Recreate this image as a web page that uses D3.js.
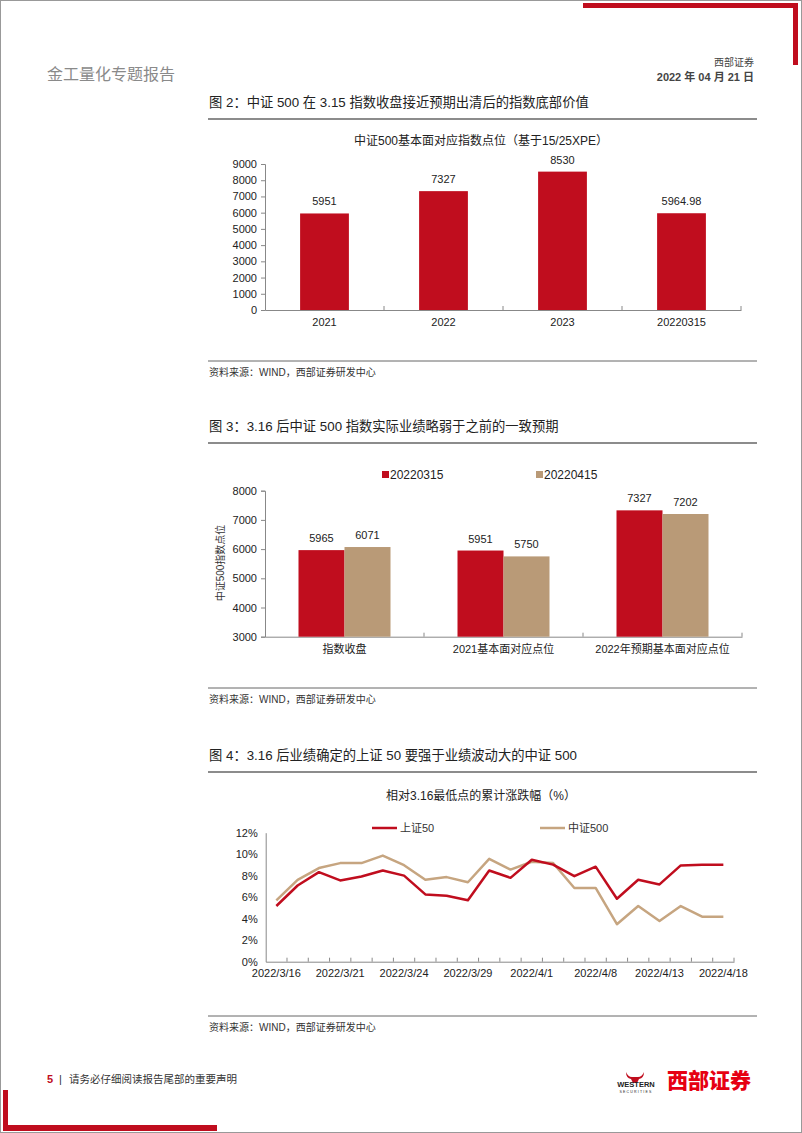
<!DOCTYPE html>
<html>
<head>
<meta charset="utf-8">
<script src="https://cdn.jsdelivr.net/npm/d3@7"></script>
<style>
  body { margin: 0; background: #fff; }
  svg { display: block; font-family: "Liberation Sans", "Noto Sans CJK SC", sans-serif; }
</style>
</head>
<body>
<svg id="page" width="802" height="1133"></svg>
<script>
// ---- data ----
const c1Cats = ["2021", "2022", "2023", "20220315"];
const c1Vals = [5951, 7327, 8530, 5964.98];
const c1Labels = ["5951", "7327", "8530", "5964.98"];

const c2Cats = ["指数收盘", "2021基本面对应点位", "2022年预期基本面对应点位"];
const c2Series = ["20220315", "20220415"];
const c2Mar = [5965, 5951, 7327];
const c2Apr = [6071, 5750, 7202];

const c3Dates = ["2022/3/16", "2022/3/17", "2022/3/18", "2022/3/21", "2022/3/22", "2022/3/23",
  "2022/3/24", "2022/3/25", "2022/3/28", "2022/3/29", "2022/3/30", "2022/3/31", "2022/4/1",
  "2022/4/6", "2022/4/7", "2022/4/8", "2022/4/11", "2022/4/12", "2022/4/13", "2022/4/14",
  "2022/4/15", "2022/4/18"];
const sz50 = [5.18, 7.09, 8.33, 7.56, 7.92, 8.48, 8.01, 6.26, 6.14, 5.71, 8.48, 7.80, 9.49,
  9.03, 7.96, 8.84, 5.86, 7.62, 7.19, 8.96, 9.02, 9.02];
const zz500 = [5.71, 7.62, 8.71, 9.17, 9.17, 9.87, 8.98, 7.62, 7.87, 7.39, 9.57, 8.57, 9.30,
  9.18, 6.86, 6.86, 3.49, 5.18, 3.78, 5.18, 4.19, 4.19];
const c3Names = ["上证50", "中证500"];

const RED = "#c00d1e", BROWN = "#b99a77", LBROWN = "#c6a580";
const CJK = "'Noto Sans CJK SC', sans-serif";

const svg = d3.select("#page");

// page frame + decorations
svg.append("rect").attr("x", 0.5).attr("y", 0.5).attr("width", 801).attr("height", 1132)
  .attr("fill", "none").attr("stroke", "#999").attr("stroke-width", 1);
svg.append("rect").attr("x", 583).attr("y", 3).attr("width", 214).attr("height", 5).attr("fill", RED);
svg.append("rect").attr("x", 793).attr("y", 3).attr("width", 5).attr("height", 62).attr("fill", RED);
svg.append("rect").attr("x", 3).attr("y", 1090).attr("width", 5).attr("height", 40).attr("fill", RED);
svg.append("rect").attr("x", 3).attr("y", 1125).attr("width", 214).attr("height", 6).attr("fill", RED);

svg.append("text").attr("x", 47).attr("y", 80).attr("fill", "#8a8a8a")
  .style("font-family", CJK).style("font-size", "16px").text("金工量化专题报告");
svg.append("text").attr("x", 754).attr("y", 66).attr("text-anchor", "end").attr("fill", "#444")
  .style("font-family", CJK).style("font-size", "10px").text("西部证券");
svg.append("text").attr("x", 754).attr("y", 81).attr("text-anchor", "end").attr("fill", "#444")
  .style("font-size", "11px").style("font-weight", "bold").text("2022 年 04 月 21 日");

function figHeader(y, txt) {
  svg.append("text").attr("x", 209).attr("y", y).attr("fill", "#222")
    .style("font-size", "13.3px").text(txt);
  svg.append("line").attr("x1", 208).attr("x2", 757).attr("y1", y + 12).attr("y2", y + 12)
    .attr("stroke", "#666").attr("stroke-width", 1.5);
}
function source(y) {
  svg.append("line").attr("x1", 208).attr("x2", 757).attr("y1", y).attr("y2", y)
    .attr("stroke", "#666").attr("stroke-width", 1);
  svg.append("text").attr("x", 209).attr("y", y + 15).attr("fill", "#333")
    .style("font-size", "10px").text("资料来源：WIND，西部证券研发中心");
}

function styleAxis(g) {
  g.select(".domain").attr("stroke", "#888");
  g.selectAll(".tick line").attr("stroke", "#888");
  g.selectAll(".tick text").attr("fill", "#222").style("font-size", "11px")
    .style("font-family", "'Liberation Sans', 'Noto Sans CJK SC', sans-serif");
}

// ---- figure 2 ----
figHeader(107, "图 2：中证 500 在 3.15 指数收盘接近预期出清后的指数底部价值");
svg.append("text").attr("x", 481).attr("y", 145).attr("text-anchor", "middle").attr("fill", "#222")
  .style("font-size", "12px").text("中证500基本面对应指数点位（基于15/25XPE）");
{
  const x = d3.scaleBand().domain(c1Cats).range([265, 741]).padding(0);
  const y = d3.scaleLinear().domain([0, 9000]).range([310, 164]);
  const bw = x.step() * 0.41;
  svg.append("g").attr("transform", "translate(265,0)")
    .call(d3.axisLeft(y).tickValues(d3.range(0, 9001, 1000)).tickFormat(d3.format("d"))
      .tickSize(4).tickPadding(4))
    .call(styleAxis);
  svg.append("g").attr("transform", "translate(0,310)")
    .call(d3.axisBottom(x).tickSize(0).tickPadding(8)).call(styleAxis);
  svg.append("g").selectAll("line").data(c1Cats).join("line")
    .attr("x1", d => x(d) + x.step()).attr("x2", d => x(d) + x.step())
    .attr("y1", 310).attr("y2", 306).attr("stroke", "#888");
  svg.append("g").selectAll("rect").data(c1Vals).join("rect")
    .attr("x", (d, i) => x(c1Cats[i]) + x.step() / 2 - bw / 2).attr("width", bw)
    .attr("y", d => y(d)).attr("height", d => y(0) - y(d)).attr("fill", RED);
  svg.append("g").selectAll("text").data(c1Vals).join("text")
    .attr("x", (d, i) => x(c1Cats[i]) + x.step() / 2).attr("y", d => y(d) - 8)
    .attr("text-anchor", "middle").attr("fill", "#222").style("font-size", "11px")
    .text((d, i) => c1Labels[i]);
}
source(361);

// ---- figure 3 ----
figHeader(431, "图 3：3.16 后中证 500 指数实际业绩略弱于之前的一致预期");
{
  const x = d3.scaleBand().domain(c2Cats).range([265, 742]).padding(0);
  const y = d3.scaleLinear().domain([3000, 8000]).range([636.7, 490.7]);
  const bw = 46;
  svg.append("g").attr("transform", "translate(265,0)")
    .call(d3.axisLeft(y).tickValues(d3.range(3000, 8001, 1000)).tickFormat(d3.format("d"))
      .tickSize(4).tickPadding(4))
    .call(styleAxis);
  svg.append("g").attr("transform", "translate(0,636.7)")
    .call(d3.axisBottom(x).tickSize(0).tickPadding(9)).call(styleAxis);
  svg.append("g").selectAll("line").data(c2Cats).join("line")
    .attr("x1", d => x(d) + x.step()).attr("x2", d => x(d) + x.step())
    .attr("y1", 636.7).attr("y2", 632.7).attr("stroke", "#888");
  const series = [c2Mar, c2Apr], cols = [RED, BROWN];
  series.forEach((vals, s) => {
    const off = s === 0 ? -bw : 0;
    svg.append("g").selectAll("rect").data(vals).join("rect")
      .attr("x", (d, i) => x(c2Cats[i]) + x.step() / 2 + off).attr("width", bw)
      .attr("y", d => y(d)).attr("height", d => y(3000) - y(d)).attr("fill", cols[s]);
    svg.append("g").selectAll("text").data(vals).join("text")
      .attr("x", (d, i) => x(c2Cats[i]) + x.step() / 2 + off + bw / 2).attr("y", d => y(d) - 8)
      .attr("text-anchor", "middle").attr("fill", "#222").style("font-size", "11px").text(d => d);
  });
  // legend
  const lx = [382, 536];
  c2Series.forEach((n, s) => {
    svg.append("rect").attr("x", lx[s]).attr("y", 471).attr("width", 7).attr("height", 7).attr("fill", cols[s]);
    svg.append("text").attr("x", lx[s] + 8).attr("y", 479).attr("fill", "#222")
      .style("font-size", "12px").text(n);
  });
  svg.append("text").attr("transform", "translate(224,563) rotate(-90)").attr("text-anchor", "middle")
    .attr("fill", "#333").style("font-size", "10px").text("中证500指数点位");
}
source(688);

// ---- figure 4 ----
figHeader(760, "图 4：3.16 后业绩确定的上证 50 要强于业绩波动大的中证 500");
svg.append("text").attr("x", 481).attr("y", 800).attr("text-anchor", "middle").attr("fill", "#222")
  .style("font-size", "12px").text("相对3.16最低点的累计涨跌幅（%）");
{
  const x = d3.scaleBand().domain(c3Dates).range([265.7, 734]).padding(0);
  const y = d3.scaleLinear().domain([0, 12]).range([961.7, 832.7]);
  svg.append("g").attr("transform", "translate(265.7,0)")
    .call(d3.axisLeft(y).tickValues(d3.range(0, 13, 2)).tickFormat(d => d + "%").tickSize(0).tickPadding(8))
    .call(styleAxis);
  svg.append("g").attr("transform", "translate(0,961.7)")
    .call(d3.axisBottom(x).tickSize(0).tickPadding(8)
      .tickValues(c3Dates.filter((d, i) => i % 3 === 0)))
    .call(styleAxis);
  svg.append("g").selectAll("line").data(c3Dates).join("line")
    .attr("x1", d => x(d) + x.step()).attr("x2", d => x(d) + x.step())
    .attr("y1", 961.7).attr("y2", 957.7).attr("stroke", "#888");
  const line = d3.line().x((d, i) => x(c3Dates[i]) + x.step() / 2).y(d => y(d));
  const cols = [RED, LBROWN];
  [zz500, sz50].forEach((vals, k) => {
    svg.append("path").datum(vals).attr("d", line).attr("fill", "none")
      .attr("stroke", k === 0 ? LBROWN : RED).attr("stroke-width", 2.5).attr("stroke-linejoin", "round");
  });
  const lx = [372, 540];
  c3Names.forEach((n, s) => {
    svg.append("line").attr("x1", lx[s]).attr("x2", lx[s] + 25).attr("y1", 828).attr("y2", 828)
      .attr("stroke", cols[s]).attr("stroke-width", 2.5);
    svg.append("text").attr("x", lx[s] + 28).attr("y", 832).attr("fill", "#333")
      .style("font-size", "11px").text(n);
  });
}
source(1016);

// ---- footer ----
svg.append("text").attr("x", 47).attr("y", 1083).attr("fill", RED)
  .style("font-size", "11px").style("font-weight", "bold").text("5");
svg.append("text").attr("x", 59).attr("y", 1083).attr("fill", "#333")
  .style("font-size", "11px").text("|");
svg.append("text").attr("x", 69).attr("y", 1083).attr("fill", "#333")
  .style("font-family", CJK).style("font-size", "10.5px").text("请务必仔细阅读报告尾部的重要声明");
// logo
svg.append("path").attr("fill", RED)
  .attr("d", "M626,1072 q2,5 6,5 h6 q4,0 6,-5 q0,6 -5,7 l-2,4 h-4 l-2,-4 q-5,-1 -5,-7 z");
svg.append("text").attr("x", 636).attr("y", 1087).attr("text-anchor", "middle").attr("fill", "#222")
  .style("font-size", "7.5px").style("font-weight", "bold").text("WESTERN");
svg.append("text").attr("x", 636).attr("y", 1093).attr("text-anchor", "middle").attr("fill", "#222")
  .style("font-size", "3.5px").style("letter-spacing", "1.2px").text("SECURITIES");
svg.append("text").attr("x", 667).attr("y", 1088).attr("fill", "#e60012")
  .style("font-family", CJK).style("font-size", "21px").style("font-weight", "900").text("西部证券");
</script>
</body>
</html>
